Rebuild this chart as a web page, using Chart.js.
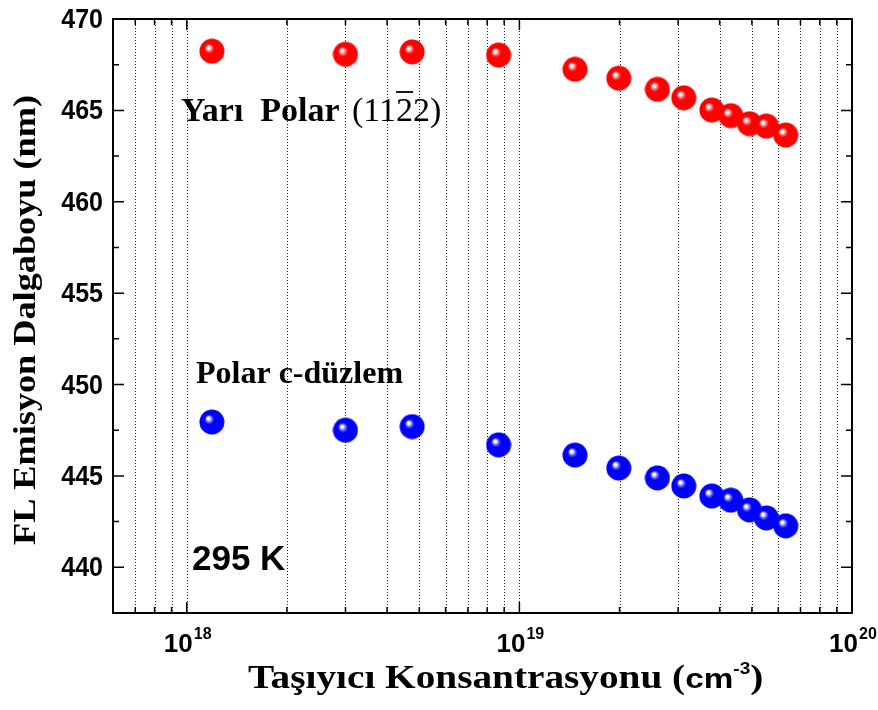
<!DOCTYPE html>
<html>
<head>
<meta charset="utf-8">
<script src="https://cdn.jsdelivr.net/npm/chart.js@4.4.1/dist/chart.umd.min.js"></script>
<style>
  html, body { margin: 0; padding: 0; background: #fff; }
  #wrap { width: 878px; height: 710px; }
</style>
</head>
<body>
<div id="wrap"><canvas id="fl"></canvas></div>
<script>
// carrier concentration (cm^-3), same for both samples
var konsantrasyon = [1.19e18, 3.0e18, 4.76e18, 8.66e18, 1.47e19, 1.99e19, 2.6e19,
                     3.12e19, 3.79e19, 4.32e19, 4.92e19, 5.53e19, 6.32e19];
// emission wavelength (nm)
var yariPolar = [468.24, 468.07, 468.2, 468.03, 467.25, 466.76, 466.15,
                 465.69, 465.02, 464.71, 464.27, 464.14, 463.65];
var polarC = [447.95, 447.5, 447.7, 446.7, 446.14, 445.43, 444.89,
              444.45, 443.9, 443.67, 443.14, 442.7, 442.27];

var xMin = 6e17, xMax = 1e20;
var yMin = 437.5, yMax = 470;
var yMajor = [440, 445, 450, 455, 460, 465, 470];
var yMinor = [437.5, 442.5, 447.5, 452.5, 457.5, 462.5, 467.5];
var xDecades = [18, 19, 20];
var xGrid = [];
[17, 18, 19].forEach(function(e) {
    for (var m = 1; m <= 9; m++) {
        var v = m * Math.pow(10, e);
        if (v > xMin && v < xMax) xGrid.push(v);
    }
});

function ball(r, g, b) {
    var size = 26;
    var c = document.createElement('canvas');
    c.width = size; c.height = size;
    var g2 = c.getContext('2d');
    var grad = g2.createRadialGradient(9, 9, 0, 13, 13, 13);
    grad.addColorStop(0, '#ffffff');
    grad.addColorStop(0.12, '#ffffff');
    grad.addColorStop(0.2, 'rgb(' + Math.round(r + (255 - r) * 0.55) + ',' + Math.round(g + (255 - g) * 0.55) + ',' + Math.round(b + (255 - b) * 0.55) + ')');
    grad.addColorStop(0.38, 'rgb(' + r + ',' + g + ',' + b + ')');
    grad.addColorStop(1, 'rgb(' + r + ',' + g + ',' + b + ')');
    g2.fillStyle = grad;
    g2.beginPath();
    g2.arc(13, 13, 12.5, 0, Math.PI * 2);
    g2.fill();
    return c;
}

var redBall = ball(255, 0, 0);
var blueBall = ball(0, 0, 255);

var serif = '"Liberation Serif", "Times New Roman", serif';
var sans = '"Liberation Sans", Arial, sans-serif';

// text stretched along its own direction to fit a given length
function fitText(ctx, text, x, y, len) {
    var w = ctx.measureText(text).width;
    ctx.save();
    ctx.translate(x, y);
    ctx.scale(len / w, 1);
    ctx.fillText(text, 0, 0);
    ctx.restore();
}

var decor = {
    id: 'decor',
    beforeDatasetsDraw: function(chart) {
        var ctx = chart.ctx, a = chart.chartArea;
        var xs = chart.scales.x;
        ctx.save();
        ctx.strokeStyle = '#222';
        ctx.lineWidth = 1;
        ctx.setLineDash([1, 2]);
        xGrid.forEach(function(v) {
            var px = Math.round(xs.getPixelForValue(v)) + 0.5;
            ctx.beginPath();
            ctx.moveTo(px, a.top);
            ctx.lineTo(px, a.bottom);
            ctx.stroke();
        });
        ctx.restore();
    },
    afterDatasetsDraw: function(chart) {
        var ctx = chart.ctx, a = chart.chartArea;
        var xs = chart.scales.x, ys = chart.scales.y;
        ctx.save();
        ctx.strokeStyle = '#000';
        ctx.lineWidth = 2;
        ctx.strokeRect(a.left, a.top, a.right - a.left, a.bottom - a.top);

        // inward ticks
        ctx.lineWidth = 1.5;
        ctx.beginPath();
        xGrid.forEach(function(v) {
            var px = xs.getPixelForValue(v);
            var major = Math.abs(Math.log10(v) - Math.round(Math.log10(v))) < 1e-9;
            var len = major ? 11 : 6;
            ctx.moveTo(px, a.bottom); ctx.lineTo(px, a.bottom - len);
            ctx.moveTo(px, a.top); ctx.lineTo(px, a.top + len);
        });
        yMajor.forEach(function(v) {
            var py = ys.getPixelForValue(v);
            ctx.moveTo(a.left, py); ctx.lineTo(a.left + 11, py);
            ctx.moveTo(a.right, py); ctx.lineTo(a.right - 11, py);
        });
        yMinor.forEach(function(v) {
            var py = ys.getPixelForValue(v);
            ctx.moveTo(a.left, py); ctx.lineTo(a.left + 6, py);
            ctx.moveTo(a.right, py); ctx.lineTo(a.right - 6, py);
        });
        ctx.stroke();

        // y tick labels
        ctx.fillStyle = '#000';
        ctx.textBaseline = 'alphabetic';
        yMajor.forEach(function(v) {
            ctx.save();
            ctx.translate(a.left - 10, ys.getPixelForValue(v) + 9);
            ctx.scale(1, 1.12);
            ctx.font = 'bold 25px ' + sans;
            ctx.textAlign = 'right';
            ctx.fillText(String(v), 0, 0);
            ctx.restore();
        });

        // x tick labels 10^n
        xDecades.forEach(function(e) {
            var px = xs.getPixelForValue(Math.pow(10, e));
            ctx.font = 'bold 26px ' + sans;
            ctx.textAlign = 'right';
            ctx.fillText('10', px + 6, 652);
            ctx.font = 'bold 16px ' + sans;
            ctx.textAlign = 'left';
            ctx.fillText(String(e), px + 7, 639);
        });

        // y axis title
        ctx.font = 'bold 32px ' + serif;
        ctx.textAlign = 'left';
        ctx.save();
        ctx.translate(35, 545);
        ctx.rotate(-Math.PI / 2);
        fitText(ctx, 'FL Emisyon Dalgaboyu (nm)', 0, 0, 450);
        ctx.restore();

        // x axis title
        var sx = 1.19;
        var p1 = 'Taşıyıcı Konsantrasyonu (';
        ctx.save();
        ctx.translate(248, 688);
        ctx.scale(sx, 1);
        ctx.font = 'bold 33px ' + serif;
        var w1 = ctx.measureText(p1).width;
        ctx.fillText(p1, 0, 0);
        ctx.font = 'bold 28px ' + sans;
        var w2 = ctx.measureText('cm').width;
        ctx.fillText('cm', w1, 0);
        ctx.font = 'bold 16px ' + sans;
        var w3 = ctx.measureText('-3').width;
        ctx.fillText('-3', w1 + w2, -14);
        ctx.font = 'bold 33px ' + serif;
        ctx.fillText(')', w1 + w2 + w3, 0);
        ctx.restore();

        // annotations
        ctx.font = 'bold 34px ' + serif;
        ctx.fillText('Yarı  Polar', 181, 121);
        ctx.font = '34px ' + serif;
        var mx = 352;
        ctx.fillText('(11', mx, 121);
        var wa = ctx.measureText('(11').width;
        var wb = ctx.measureText('2').width;
        ctx.fillText('22)', mx + wa, 121);
        ctx.lineWidth = 1.8;
        ctx.beginPath();
        ctx.moveTo(mx + wa, 92);
        ctx.lineTo(mx + wa + wb, 92);
        ctx.stroke();

        ctx.font = 'bold 32px ' + serif;
        ctx.fillText('Polar c-düzlem', 196, 383);

        ctx.font = 'bold 35px ' + sans;
        ctx.fillText('295 K', 192, 570);
        ctx.restore();
    }
};

function toPts(ys) {
    return konsantrasyon.map(function(x, i) { return { x: x, y: ys[i] }; });
}

var ctx = document.getElementById('fl').getContext('2d');
var config = {
    type: 'scatter',
    data: {
        datasets: [{
            label: 'Yarı Polar (11-22)',
            data: toPts(yariPolar),
            pointStyle: redBall,
            pointRadius: 13,
            showLine: false
        }, {
            label: 'Polar c-düzlem',
            data: toPts(polarC),
            pointStyle: blueBall,
            pointRadius: 13,
            showLine: false
        }]
    },
    options: {
        responsive: true,
        maintainAspectRatio: false,
        animation: false,
        layout: { padding: { left: 113, right: 26, top: 19, bottom: 97 } },
        plugins: { legend: { display: false }, tooltip: { enabled: false } },
        scales: {
            x: {
                type: 'logarithmic',
                min: xMin, max: xMax,
                grid: { display: false, drawTicks: false },
                border: { display: false },
                ticks: { display: false }
            },
            y: {
                min: yMin, max: yMax,
                grid: { display: false, drawTicks: false },
                border: { display: false },
                ticks: { display: false }
            }
        }
    },
    plugins: [decor]
};

var chart = new Chart(ctx, config);
</script>
</body>
</html>
